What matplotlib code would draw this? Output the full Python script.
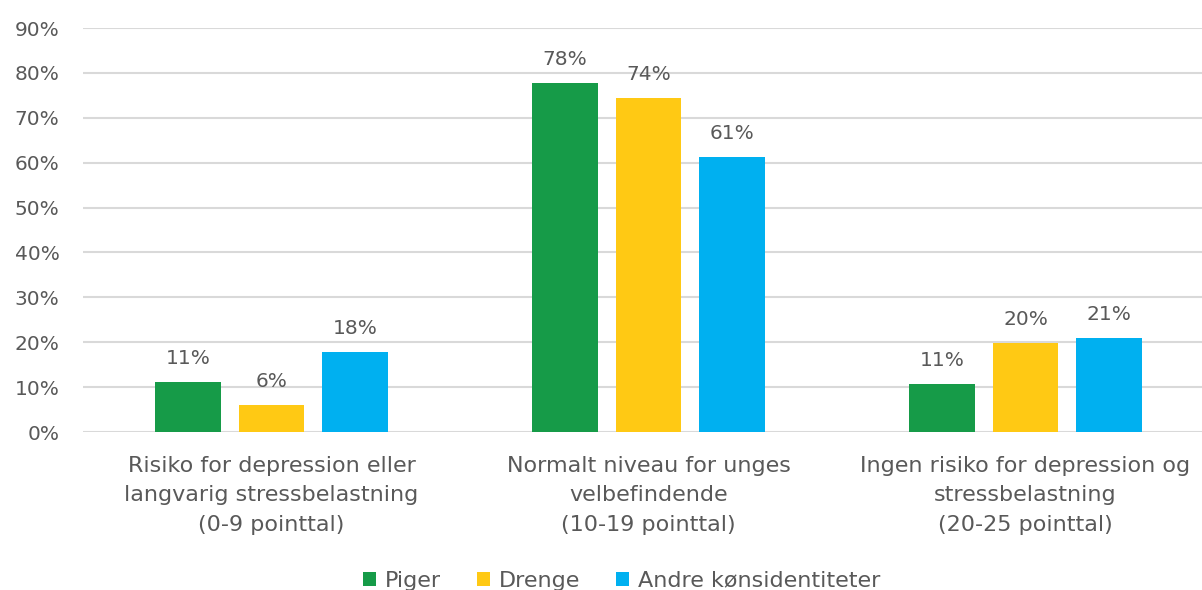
import matplotlib.pyplot as plt
import numpy as np

categories = ["Risiko for depression eller\nlangvarig stressbelastning\n(0-9 pointtal)",
              "Normalt niveau for unges\nvelbefindende\n(10-19 pointtal)",
              "Ingen risiko for depression og\nstressbelastning\n(20-25 pointtal)"]
series = ["Piger", "Drenge", "Andre kønsidentiteter"]
piger = [11.1, 77.7, 10.7]
drenge = [6.0, 74.4, 19.8]
andre = [17.8, 61.2, 20.9]
labels = [["11%", "78%", "11%"], ["6%", "74%", "20%"], ["18%", "61%", "21%"]]
colors = ["#169B48", "#FFC914", "#00B0F0"]
yticks = np.arange(0, 91, 10)

plt.rcParams['font.family'] = ['DejaVu Sans']
txt = "#595959"
fs = 14.5
fs_cat = 16

fig = plt.figure(figsize=(12.02, 5.9), dpi=100)
ax = fig.add_axes([83/1202, 158/590, 1 - 83/1202, 404/590])

x = np.arange(len(categories))
w = 0.175
step = 0.222
for i, (vals, c) in enumerate(zip([piger, drenge, andre], colors)):
    pos = x + (i - 1) * step
    bars = ax.bar(pos, vals, width=w, color=c, label=series[i], zorder=3)
    for b, lab in zip(bars, labels[i]):
        ax.text(b.get_x() + b.get_width()/2, b.get_height() + 3.2, lab,
                ha='center', va='bottom', fontsize=fs, color=txt)

ax.set_ylim(0, 90)
ax.set_xlim(-0.5, (1202 - 83)/377 - 0.5)
ax.set_yticks(yticks)
ax.set_yticklabels([f"{t}%" for t in yticks], fontsize=fs, color=txt)
ax.set_xticks(x)
ax.set_xticklabels(categories, fontsize=fs_cat, color=txt, linespacing=1.6)
ax.tick_params(axis='both', length=0)
ax.tick_params(axis='y', pad=17)
ax.tick_params(axis='x', pad=17)
ax.grid(axis='y', color='#d9d9d9', linewidth=1.5, zorder=0)
for s in ax.spines.values():
    s.set_visible(False)

leg = fig.legend(loc='lower center', bbox_to_anchor=(0.517, -0.035), ncol=3, frameon=False,
                 fontsize=fs_cat, handlelength=0.6, handleheight=0.6, handletextpad=0.4,
                 columnspacing=1.6)
for t in leg.get_texts():
    t.set_color(txt)

fig.savefig("out.png", dpi=100)
